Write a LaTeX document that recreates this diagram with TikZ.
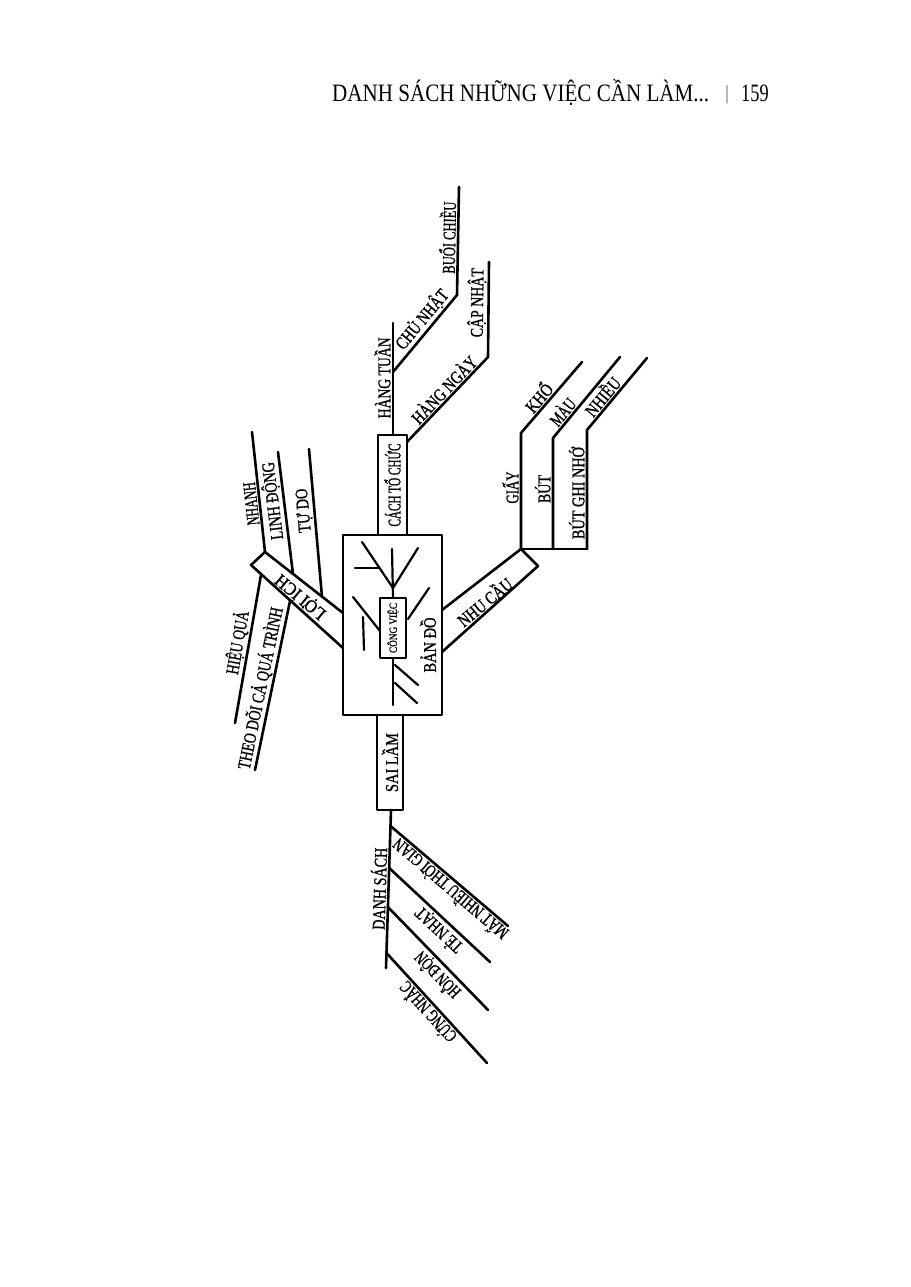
\documentclass[tikz,border=0pt]{standalone}
\usepackage{fontspec}
\setmainfont{Liberation Serif}
\newfontfamily\handfont{Liberation Serif}[FakeBold=1.2]
\newcommand\fitlbl[2]{\resizebox{#1pt}{\height}{#2}}
\begin{document}
\begin{tikzpicture}[x=1pt,y=-1pt,
  lab/.style={font=\handfont\fontsize{18}{19}\selectfont, inner sep=1.2pt},
  smalllab/.style={font=\handfont\fontsize{11}{12}\selectfont, inner sep=1pt},
  ln/.style={line width=2.6pt, line cap=round, line join=round},
  thinln/.style={line width=2.2pt, line cap=round, line join=round},
  boxst/.style={draw, line width=2.6pt, line join=round},
  onln/.style={lab, sloped, above, allow upside down},
  onlnud/.style={lab, sloped, above, allow upside down}]
\path[use as bounding box, fill=white] (0,0) rectangle (910,1287);

% header
\node[font=\fontsize{25}{26}\selectfont, anchor=base west, inner sep=0pt] (hdr) at (332,102) {\fitlbl{377}{DANH SÁCH NHỮNG VIỆC CẦN LÀM...}};
\node[font=\fontsize{20}{20}\selectfont, anchor=base, inner sep=0pt, text=black!55] (hbar) at (727,100) {|};
\node[font=\fontsize{25}{26}\selectfont, anchor=base west, inner sep=0pt] (hpage) at (741,102) {\fitlbl{27.5}{159}};

% central map box
\node[boxst, minimum width=99pt, minimum height=180pt] (map) at (392.5,625) {};
\node[boxst, lab, rotate=90, minimum width=100pt, minimum height=29pt] (org) at (392.5,485) {\fitlbl{83}{CÁCH TỔ CHỨC}};
\node[boxst, lab, rotate=90, minimum width=95pt, minimum height=26pt] (err) at (390,762.5) {\fitlbl{59}{SAI LẦM}};
\node[boxst, smalllab, line width=2pt, rotate=90, minimum width=60pt, minimum height=26pt] (job) at (393,628) {\fitlbl{50}{CÔNG VIỆC}};
\node[lab, rotate=90] (mapt) at (428,645) {\fitlbl{55}{BẢN ĐỒ}};

% tree drawn inside the map
\coordinate (ta) at (392,549);
\coordinate (tt) at (393,598);
\coordinate (tb) at (393,588);
\coordinate (tc) at (362,542);
\coordinate (td) at (418,548);
\coordinate (te) at (355,568);
\coordinate (tf) at (379,568);
\coordinate (tg) at (429,588);
\coordinate (th) at (408,619);
\coordinate (ti) at (353,597);
\coordinate (tj) at (380,631);
\coordinate (tk) at (363,617);
\coordinate (tl) at (364,650);
\coordinate (tbot) at (393,658);
\coordinate (tm) at (393,705);
\coordinate (tn) at (395,665);
\coordinate (to) at (418,685);
\coordinate (tp) at (395,683);
\coordinate (tq) at (417,703);
\draw[thinln] (ta) -- (tt);
\draw[thinln] (tc) -- (tb) -- (td);
\draw[thinln] (te) -- (tf);
\draw[thinln] (tg) -- (th);
\draw[thinln] (ti) -- (tj);
\draw[thinln] (tk) -- (tl);
\draw[thinln] (tbot) -- (tm);
\draw[thinln] (tn) -- (to);
\draw[thinln] (tp) -- (tq);

% top branch
\coordinate (ht0) at (393,435);
\coordinate (ht1) at (393,323);
\coordinate (cn0) at (393,372);
\coordinate (cn1) at (457,295);
\coordinate (bc1) at (459,187);
\coordinate (hn0) at (407,442);
\coordinate (hn1) at (488,357);
\coordinate (cp1) at (489,262);
\draw[ln] (ht0) -- node[onln, pos=.51] (tHT) {\fitlbl{81}{HÀNG TUẦN}} (ht1);
\draw[ln] (cn0) -- node[onln, pos=.59] (tCN) {\fitlbl{72}{CHỦ NHẬT}} (cn1)
  -- node[onln, pos=.53] (tBC) {\fitlbl{72}{BUỔI CHIỀU}} (bc1);
\draw[ln] (hn0) -- node[onln, pos=.54] (tHN) {\fitlbl{86}{HÀNG NGÀY}} (hn1)
  -- node[onln, pos=.57] (tCP) {\fitlbl{69}{CẬP NHẬT}} (cp1);

% right branch
\coordinate (nc1) at (442,610);
\coordinate (nc2) at (521,549);
\coordinate (nc3) at (538,566);
\coordinate (nc4) at (442,652);
\draw[ln] (nc1) -- (nc2) -- (nc3) -- (nc4);
\node[lab, rotate=39.5] (tNC) at (484,601) {\fitlbl{65}{NHU CẦU}};
\coordinate (gy1) at (521,433);
\coordinate (kh1) at (582,362);
\coordinate (bt0) at (553,549);
\coordinate (bt1) at (553,438);
\coordinate (mu1) at (620,357);
\coordinate (bg0) at (587,549);
\coordinate (bg1) at (587,430);
\coordinate (nh1) at (647,358);
\draw[ln] (nc2) -- node[onln, pos=.53] (tGY) {\fitlbl{32}{GIẤY}} (gy1)
  -- node[onln, pos=.41] (tKH) {\fitlbl{32}{KHỔ}} (kh1);
\draw[ln] (nc2) -- (bg0);
\draw[ln] (bt0) -- node[onln, pos=.54] (tBT) {\fitlbl{28}{BÚT}} (bt1)
  -- node[onln, pos=.25] (tMU) {\fitlbl{30}{MÀU}} (mu1);
\draw[ln] (bg0) -- node[onln, pos=.47] (tBG) {\fitlbl{92}{BÚT GHI NHỚ}} (bg1)
  -- node[onln, pos=.38] (tNH) {\fitlbl{45}{NHIỀU}} (nh1);

% left branch
\coordinate (lc1) at (343,613);
\coordinate (lc2) at (265,552);
\coordinate (lc3) at (251,565);
\coordinate (lc4) at (343,648);
\draw[ln] (lc1) -- (lc2) -- (lc3) -- (lc4);
\node[lab, rotate=140] (tLI) at (300,597.5) {\fitlbl{60}{LỢI ÍCH}};
\coordinate (nn1) at (252,432);
\coordinate (ld0) at (293,574);
\coordinate (ld1) at (278,452);
\coordinate (td0) at (322,597);
\coordinate (td1) at (309,449);
\coordinate (hq0) at (261,575);
\coordinate (hq1) at (235,723);
\coordinate (th0) at (290,601);
\coordinate (th1) at (255,770);
\draw[ln] (lc2) -- node[onln, pos=.41] (tNN) {\fitlbl{43}{NHANH}} (nn1);
\draw[ln] (ld0) -- node[onln, pos=.61] (tLD) {\fitlbl{78}{LINH ĐỘNG}} (ld1);
\draw[ln] (td0) -- node[onln, pos=.59] (tTD) {\fitlbl{44}{TỰ DO}} (td1);
\draw[ln] (hq1) -- node[onln, pos=.53] (tHQ) {\fitlbl{64}{HIỆU QUẢ}} (hq0);
\draw[ln] (th1) -- node[onln, pos=.47] (tTH) {\fitlbl{165}{THEO DÕI CẢ QUÁ TRÌNH}} (th0);

% bottom branch
\coordinate (ds0) at (391,810);
\coordinate (ds1) at (386,968);
\coordinate (mt0) at (390.5,826);
\coordinate (mt1) at (508,926);
\coordinate (tn0) at (389.2,868);
\coordinate (tn1) at (490,962);
\coordinate (hd0) at (387.9,907);
\coordinate (hd1) at (488,1010);
\coordinate (cg0) at (386.5,953);
\coordinate (cg1) at (487,1063);
\draw[ln] (ds1) -- node[onln, pos=.5] (tDS) {\fitlbl{82}{DANH SÁCH}} (ds0);
\draw[ln] (mt1) -- node[onlnud, pos=.44] (tMT) {\fitlbl{145}{MẤT NHIỀU THỜI GIAN}} (mt0);
\draw[ln] (tn1) -- node[onlnud, pos=.43] (tTN) {\fitlbl{58}{TẺ NHẠT}} (tn0);
\draw[ln] (hd1) -- node[onlnud, pos=.42] (tHD) {\fitlbl{57}{HỖN ĐỘN}} (hd0);
\draw[ln] (cg1) -- node[onlnud, pos=.52] (tCG) {\fitlbl{75}{CỨNG NHẮC}} (cg0);
\end{tikzpicture}
\end{document}
